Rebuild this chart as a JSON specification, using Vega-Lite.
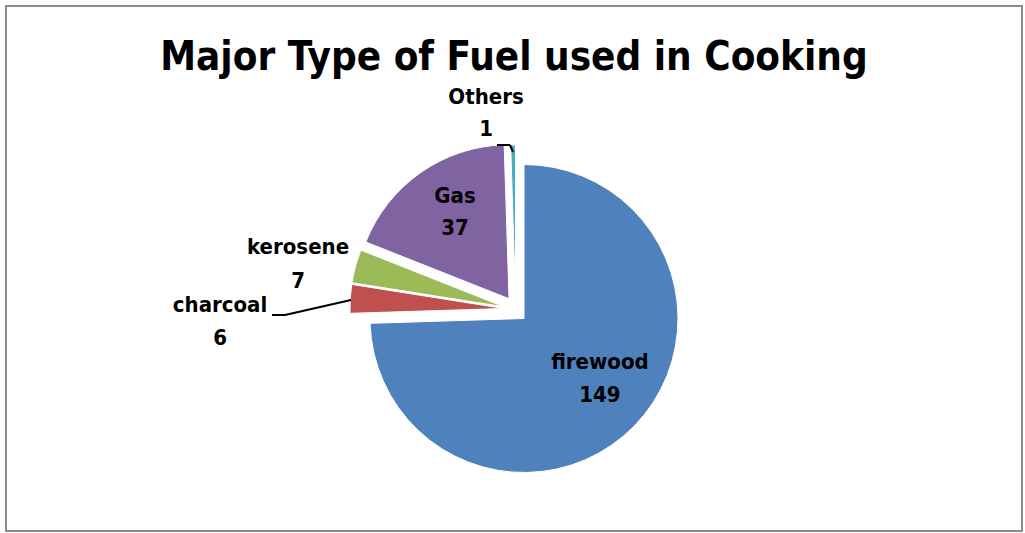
{
  "$schema": "https://vega.github.io/schema/vega-lite/v6.json",
  "width": 1016,
  "height": 525,
  "autosize": "none",
  "padding": {"left": 6, "top": 6, "right": 3, "bottom": 2},
  "background": "white",
  "view": {"stroke": "#8c8c8c", "strokeWidth": 2},
  "title": {
    "text": "Major Type of Fuel used in Cooking",
    "orient": "top",
    "anchor": "middle",
    "frame": "group",
    "offset": -72,
    "font": "Liberation Sans Narrow, DejaVu Sans Condensed, Roboto Condensed, Roboto, sans-serif",
    "fontSize": 40,
    "fontWeight": "bold",
    "color": "#000000"
  },
  "config": {
    "text": {"font": "Liberation Sans Narrow, DejaVu Sans Condensed, Roboto Condensed, Roboto, sans-serif", "fontWeight": "bold", "fontSize": 22, "color": "#000000"},
    "arc": {"stroke": "white", "strokeWidth": 1}
  },
  "data": {
    "values": [
      {"fuel": "firewood", "count": 149, "order": 1},
      {"fuel": "charcoal", "count": 6, "order": 2},
      {"fuel": "kerosene", "count": 7, "order": 3},
      {"fuel": "Gas", "count": 37, "order": 4},
      {"fuel": "Others", "count": 1, "order": 5}
    ]
  },
  "transform": [
    {"stack": "count", "groupby": [], "sort": [{"field": "order"}], "as": ["start", "end"]}
  ],
  "encoding": {
    "theta": {"field": "start", "type": "quantitative", "scale": {"domain": [0, 200]}},
    "theta2": {"field": "end"}
  },
  "layer": [
    {"transform": [{"filter": "datum.fuel === 'firewood'"}], "mark": {"type": "arc", "radius": 154, "fill": "#4F81BD", "xOffset": 10, "yOffset": 50}},
    {"transform": [{"filter": "datum.fuel === 'charcoal'"}], "mark": {"type": "arc", "radius": 154, "fill": "#C0504D", "xOffset": -10.1, "yOffset": 40}},
    {"transform": [{"filter": "datum.fuel === 'kerosene'"}], "mark": {"type": "arc", "radius": 154, "fill": "#9BBB59", "xOffset": -10, "yOffset": 38.3}},
    {"transform": [{"filter": "datum.fuel === 'Gas'"}], "mark": {"type": "arc", "radius": 154, "fill": "#8064A2", "xOffset": -5, "yOffset": 30.2}},
    {"transform": [{"filter": "datum.fuel === 'Others'"}], "mark": {"type": "arc", "radius": 154, "fill": "#4BACC6", "xOffset": 1.5, "yOffset": 30.5}},

    {"transform": [{"filter": "datum.fuel === 'charcoal'"}], "mark": {"type": "arc", "innerRadius": 0, "outerRadius": 67.7, "thetaOffset": -0.192, "theta2Offset": -0.192, "xOffset": -163, "yOffset": 31.5, "fill": null, "stroke": "#000000", "strokeWidth": 2}, "encoding": {"theta2": {"field": "start"}}},
    {"transform": [{"filter": "datum.fuel === 'charcoal'"}], "mark": {"type": "arc", "innerRadius": 0, "outerRadius": 13, "thetaOffset": 0.0314, "theta2Offset": 0.0314, "xOffset": -229, "yOffset": 46.5, "fill": null, "stroke": "#000000", "strokeWidth": 2}, "encoding": {"theta2": {"field": "start"}}},
    {"transform": [{"filter": "datum.fuel === 'Others'"}], "mark": {"type": "arc", "innerRadius": 0, "outerRadius": 13, "thetaOffset": 1.602, "theta2Offset": 1.602, "xOffset": -17, "yOffset": -123.5, "fill": null, "stroke": "#000000", "strokeWidth": 2}, "encoding": {"theta2": {"field": "start"}}},
    {"transform": [{"filter": "datum.fuel === 'Others'"}], "mark": {"type": "arc", "innerRadius": 0, "outerRadius": 7.6, "thetaOffset": 2.768, "theta2Offset": 2.768, "xOffset": -4, "yOffset": -123.5, "fill": null, "stroke": "#000000", "strokeWidth": 2}, "encoding": {"theta2": {"field": "start"}}},

    {"transform": [{"filter": "datum.fuel === 'firewood'"}], "mark": {"type": "text", "radius": 96.5, "thetaOffset": 2.236, "xOffset": 10, "yOffset": 49, "dy": -15.5}, "encoding": {"text": {"field": "fuel"}}},
    {"transform": [{"filter": "datum.fuel === 'firewood'"}], "mark": {"type": "text", "radius": 96.5, "thetaOffset": 2.236, "xOffset": 10, "yOffset": 49, "dy": 17.5}, "encoding": {"text": {"field": "count"}}},
    {"transform": [{"filter": "datum.fuel === 'Gas'"}], "mark": {"type": "text", "radius": 104.9, "thetaOffset": 0.627, "xOffset": -2.7, "yOffset": 32, "dy": -16}, "encoding": {"text": {"field": "fuel"}}},
    {"transform": [{"filter": "datum.fuel === 'Gas'"}], "mark": {"type": "text", "radius": 104.9, "thetaOffset": 0.627, "xOffset": -2.7, "yOffset": 32, "dy": 16}, "encoding": {"text": {"field": "count"}}},
    {"transform": [{"filter": "datum.fuel === 'kerosene'"}], "mark": {"type": "text", "radius": 210.5, "thetaOffset": 0.077, "xOffset": -11.2, "yOffset": 44, "dy": -17}, "encoding": {"text": {"field": "fuel"}}},
    {"transform": [{"filter": "datum.fuel === 'kerosene'"}], "mark": {"type": "text", "radius": 210.5, "thetaOffset": 0.077, "xOffset": -11.2, "yOffset": 44, "dy": 17}, "encoding": {"text": {"field": "count"}}},
    {"transform": [{"filter": "datum.fuel === 'charcoal'"}], "mark": {"type": "text", "radius": 282, "thetaOffset": 0.047, "xOffset": -12, "yOffset": 48, "dy": -7.5}, "encoding": {"text": {"field": "fuel"}}},
    {"transform": [{"filter": "datum.fuel === 'charcoal'"}], "mark": {"type": "text", "radius": 282, "thetaOffset": 0.047, "xOffset": -12, "yOffset": 48, "dy": 25.5}, "encoding": {"text": {"field": "count"}}},
    {"transform": [{"filter": "datum.fuel === 'Others'"}], "mark": {"type": "text", "radius": 187.3, "thetaOffset": -0.171, "xOffset": 9.7, "yOffset": 28, "dy": -16}, "encoding": {"text": {"field": "fuel"}}},
    {"transform": [{"filter": "datum.fuel === 'Others'"}], "mark": {"type": "text", "radius": 187.3, "thetaOffset": -0.171, "xOffset": 9.7, "yOffset": 28, "dy": 16}, "encoding": {"text": {"field": "count"}}}
  ]
}
